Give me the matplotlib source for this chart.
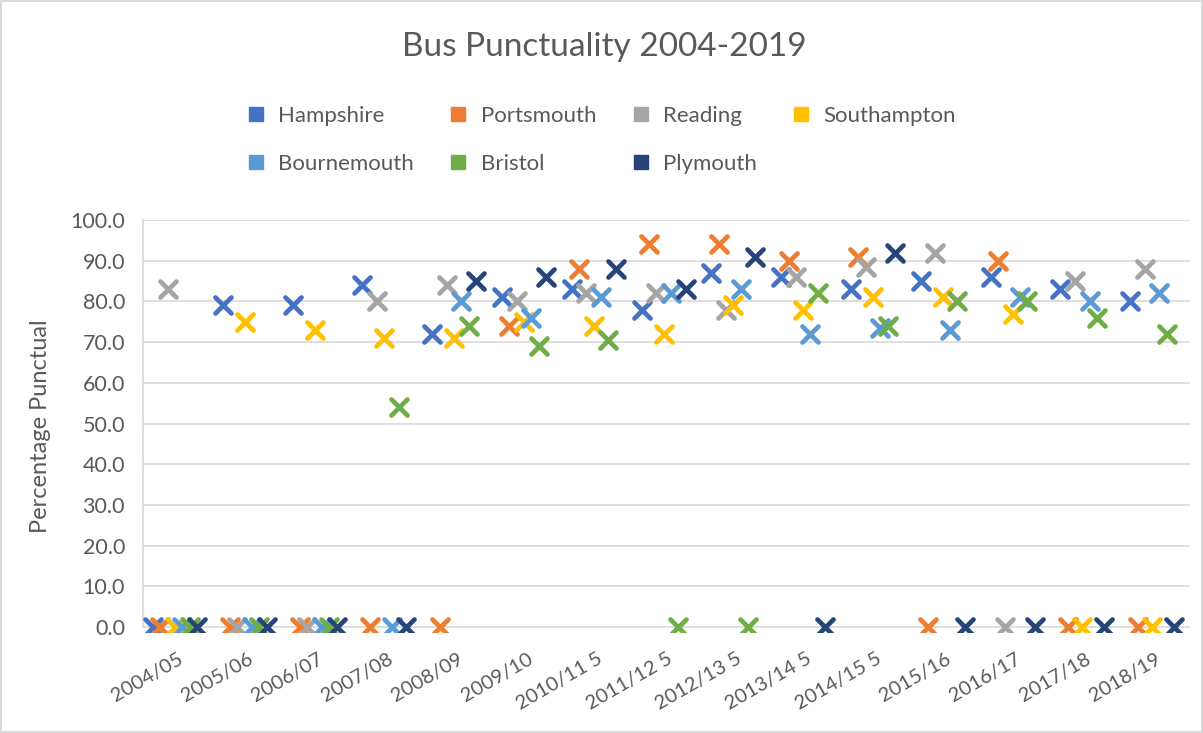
import numpy as np
import matplotlib
matplotlib.use('Agg')
from matplotlib import pyplot as plt
from matplotlib.lines import Line2D
from matplotlib.markers import MarkerStyle

plt.rcParams['font.family'] = ['Lato', 'DejaVu Sans']

# data (0.0 = no figure reported)
years = ['2004/05', '2005/06', '2006/07', '2007/08', '2008/09', '2009/10',
         '2010/11 5', '2011/12 5', '2012/13 5', '2013/14 5', '2014/15 5',
         '2015/16', '2016/17', '2017/18', '2018/19']
hampshire = [0, 79, 79, 84, 72, 81, 83, 78, 87, 86, 83, 85, 86, 83, 80]
portsmouth = [0, 0, 0, 0, 0, 74, 88, 94, 94, 90, 91, 0, 90, 0, 0]
reading = [83, 0, 0, 80, 84, 80, 82, 82, 78, 86, 88.5, 92, 0, 85, 88]
southampton = [0, 75, 73, 71, 71, 75, 74, 72, 79, 78, 81, 81, 77, 0, 0]
bournemouth = [0, 0, 0, 0, 80, 76, 81, 82, 83, 72, 73.5, 73, 81, 80, 82]
bristol = [0, 0, 0, 54, 74, 69, 70.5, 0, 0, 82, 74, 80, 80, 76, 72]
plymouth = [0, 0, 0, 0, 85, 86, 88, 83, 91, 0, 92, 0, 0, 0, 0]

names = ['Hampshire', 'Portsmouth', 'Reading', 'Southampton',
         'Bournemouth', 'Bristol', 'Plymouth']
series = [hampshire, portsmouth, reading, southampton, bournemouth, bristol, plymouth]
colors = ['#4472C4', '#ED7D31', '#A5A5A5', '#FFC000', '#5B9BD5', '#70AD47', '#264478']

txt = '#595959'
grid = '#d9d9d9'

fig = plt.figure(figsize=(12.03, 7.33), dpi=100)
fig.patch.set_edgecolor(grid)
fig.patch.set_linewidth(1.5)

W, H = 1203., 733.
ax = fig.add_axes([143 / W, (H - 632) / H, (1190 - 143) / W, (632 - 220) / H])

x = np.arange(len(years))
xmark = MarkerStyle('x', capstyle='round')
for j, (vals, c) in enumerate(zip(series, colors)):
    # each series sits at its own slot inside the year's band
    ax.plot(x + 0.143 + j * 0.105, vals, linestyle='none', marker=xmark,
            markersize=11.5, markeredgewidth=3.4, color=c, zorder=3)

ax.set_xlim(0, len(years))
ax.set_ylim(-1.2, 100)
ax.set_yticks(np.arange(0, 101, 10))
ax.yaxis.set_major_formatter(matplotlib.ticker.FormatStrFormatter('%.1f'))
ax.grid(axis='y', color=grid, linewidth=1.2, zorder=0)
ax.set_axisbelow(True)
for s in ['top', 'right', 'bottom']:
    ax.spines[s].set_visible(False)
ax.spines['left'].set_color(grid)
ax.spines['left'].set_bounds(0, 100)
ax.spines['left'].set_linewidth(1.2)

ax.set_xticks(x + 0.5)
ax.set_xticklabels(years, rotation=30, ha='right', rotation_mode='anchor')
ax.tick_params(axis='x', length=0, pad=13, labelsize=14.5, labelcolor=txt)
ax.tick_params(axis='y', length=0, pad=13, labelsize=15.5, labelcolor=txt)

ax.set_ylabel('Percentage Punctual', fontsize=17, color=txt, labelpad=14)

fig.text(0.502, 1 - 47 / H, 'Bus Punctuality 2004-2019', ha='center', va='center',
         fontsize=24, color=txt)

# legend fills column by column, so order entries to read row by row
order = [0, 4, 1, 5, 2, 6, 3]
handles = [Line2D([], [], linestyle='none', marker='s', markersize=10, color=colors[k])
           for k in order]
fig.legend(handles, [names[k] for k in order], loc='center',
           bbox_to_anchor=(0.5, 1 - 140 / H),
           ncol=4, frameon=False, fontsize=16, labelcolor=txt,
           handlelength=0.8, handletextpad=0.6, columnspacing=1.6, labelspacing=1.25)

plt.savefig('out.png', dpi=100)
